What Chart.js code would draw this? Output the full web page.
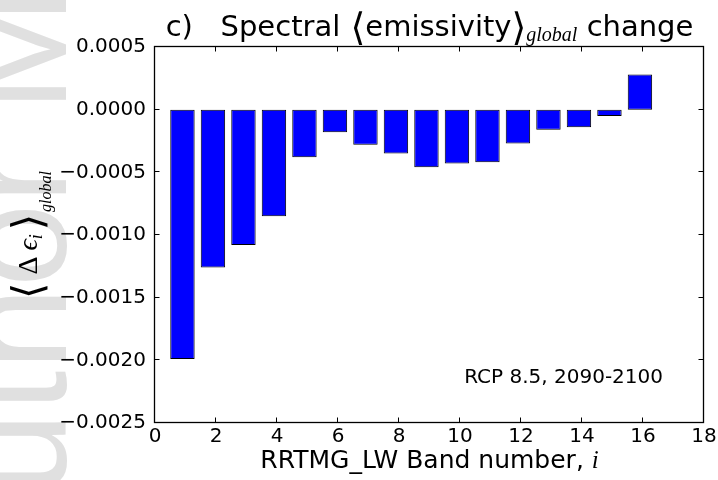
<!DOCTYPE html>
<html>
<head>
<meta charset="utf-8">
<script src="https://cdn.jsdelivr.net/npm/chart.js@4.4.0/dist/chart.umd.min.js"></script>
<style>
    html, body { margin: 0; padding: 0; background: #fff; }
</style>
</head>
<body>
<canvas id="bandChart" width="718" height="480"></canvas>
<script>
// RRTMG_LW bands and the global mean emissivity change per band
const bands = [1, 2, 3, 4, 5, 6, 7, 8, 9, 10, 11, 12, 13, 14, 15, 16];
const deltaEmissivity = [
    -0.00199, -0.00126, -0.00108, -0.00085,
    -0.00038, -0.00018, -0.00028, -0.00035,
    -0.00046, -0.00043, -0.00042, -0.00027,
    -0.00016, -0.00014, -0.00005, 0.00028
];
const xTickValues = [0, 2, 4, 6, 8, 10, 12, 14, 16, 18];
const yTickValues = [0.0005, 0.0, -0.0005, -0.0010, -0.0015, -0.0020, -0.0025];
const noteText = 'RCP 8.5, 2090-2100';

const SANS = '"DejaVu Sans"';
const SERIF = '"Liberation Serif", "DejaVu Serif"';

Chart.defaults.font.family = SANS;
Chart.defaults.color = '#000';

// draws a row of text pieces with different fonts, starting at x
function drawPieces(ctx, pieces, x, y) {
    let cx = x;
    pieces.forEach(function(p) {
        ctx.font = p.font;
        cx += (p.pre || 0);
        ctx.fillText(p.text, cx, y + (p.dy || 0));
        cx += ctx.measureText(p.text).width + (p.gap || 0);
    });
}
function piecesWidth(ctx, pieces) {
    let w = 0;
    pieces.forEach(function(p) {
        ctx.font = p.font;
        w += (p.pre || 0) + ctx.measureText(p.text).width + (p.gap || 0);
    });
    return w;
}

const titlePieces = [
    { text: 'c)   Spectral ', font: '29px ' + SANS, gap: 1 },
    { text: '\u27E8', font: '38px ' + SANS, dy: 4 },
    { text: 'emissivity', font: '29px ' + SANS },
    { text: '\u27E9', font: '38px ' + SANS, dy: 4 },
    { text: 'global', font: 'italic 20px ' + SERIF, dy: 5 },
    { text: ' change', font: '29px ' + SANS }
];
const yLabelPieces = [
    { text: '\u27E8', font: '42px ' + SANS, dy: 5, gap: 8 },
    { text: '\u0394', font: '28px ' + SERIF, gap: 6 },
    { text: '\u03F5', font: 'italic 28px ' + SERIF },
    { text: 'i', font: 'italic 18px ' + SERIF, dy: 5, gap: 4 },
    { text: '\u27E9', font: '42px ' + SANS, dy: 5, gap: 2 },
    { text: 'global', font: 'italic 16px ' + SERIF, dy: 14 }
];
const xLabelPieces = [
    { text: 'RRTMG_LW Band number, ', font: '25px ' + SANS },
    { text: 'i', font: 'italic 25px ' + SERIF }
];

const decorPlugin = {
    id: 'decor',
    beforeDraw: function(chart) {
        const ctx = chart.ctx;
        ctx.save();
        ctx.fillStyle = '#fff';
        ctx.fillRect(0, 0, chart.width, chart.height);
        // faint watermark down the left edge
        ctx.fillStyle = '#e0e0e0';
        ctx.font = '150px "Liberation Sans"';
        ctx.translate(66, 112);
        ctx.rotate(-Math.PI / 2);
        const pre = ctx.measureText('Author ').width;
        ctx.fillText('Author Manuscript', -pre, 0);
        ctx.restore();
    },
    afterDatasetsDraw: function(chart) {
        const ctx = chart.ctx;
        const a = chart.chartArea;
        const xs = chart.scales.x, ys = chart.scales.y;
        const L = a.left - 0.5, R = a.right - 0.5, T = a.top - 0.5, B = a.bottom - 0.5;
        ctx.save();
        ctx.strokeStyle = '#000';
        ctx.lineWidth = 1;
        ctx.beginPath();
        xs.ticks.forEach(function(t) {
            const px = Math.round(xs.getPixelForValue(t.value)) - 0.5;
            ctx.moveTo(px, B); ctx.lineTo(px, B - 5);
            ctx.moveTo(px, T); ctx.lineTo(px, T + 5);
        });
        ys.ticks.forEach(function(t) {
            const py = Math.round(ys.getPixelForValue(t.value)) - 0.5;
            ctx.moveTo(L, py); ctx.lineTo(L + 5, py);
            ctx.moveTo(R, py); ctx.lineTo(R - 5, py);
        });
        ctx.stroke();
        ctx.lineWidth = 1.3;
        ctx.strokeRect(L, T, R - L, B - T);
        ctx.restore();
    },
    afterDraw: function(chart) {
        const ctx = chart.ctx;
        const a = chart.chartArea;
        const cx = (a.left + a.right) / 2;
        ctx.save();
        ctx.fillStyle = '#000';
        ctx.textBaseline = 'alphabetic';
        ctx.textAlign = 'left';

        // title
        let w = piecesWidth(ctx, titlePieces);
        drawPieces(ctx, titlePieces, cx - w / 2, 36);

        // x axis label
        w = piecesWidth(ctx, xLabelPieces);
        drawPieces(ctx, xLabelPieces, cx - w / 2, 468);

        // note inside the axes
        ctx.font = '20px ' + SANS;
        ctx.textAlign = 'right';
        ctx.fillText(noteText, a.right - 41, a.bottom - 40);
        ctx.textAlign = 'left';

        // rotated y axis label
        w = piecesWidth(ctx, yLabelPieces);
        ctx.translate(37, (a.top + a.bottom) / 2);
        ctx.rotate(-Math.PI / 2);
        drawPieces(ctx, yLabelPieces, -w / 2, 0);
        ctx.restore();
    }
};

function fmtY(v) {
    if (Math.abs(v) < 1e-12) v = 0;
    return v.toFixed(4).replace('-', '\u2212');
}

new Chart(document.getElementById('bandChart').getContext('2d'), {
    type: 'bar',
    data: {
        datasets: [{
            // old matplotlib bars: left edge at i - 0.5, width 0.8
            data: bands.map(function(b, k) { return { x: b - 0.1, y: deltaEmissivity[k] }; }),
            backgroundColor: '#0000ff',
            borderColor: '#000',
            borderWidth: 1,
            borderSkipped: false,
            barPercentage: 0.8,
            categoryPercentage: 1.0
        }]
    },
    options: {
        responsive: false,
        devicePixelRatio: 1,
        animation: false,
        layout: { padding: { top: 47, right: 14, bottom: 0, left: 0 } },
        plugins: {
            legend: { display: false },
            tooltip: { enabled: false },
            title: { display: false }
        },
        scales: {
            x: {
                type: 'linear',
                offset: false,
                min: 0,
                max: 18,
                afterBuildTicks: function(scale) {
                    scale.ticks = xTickValues.map(function(v) { return { value: v }; });
                },
                afterFit: function(scale) { scale.height = 57; },
                grid: { display: false, offset: false },
                border: { display: false },
                ticks: {
                    font: { size: 20, family: SANS },
                    color: '#000',
                    padding: -6,
                    maxRotation: 0,
                    autoSkip: false
                }
            },
            y: {
                min: -0.0025,
                max: 0.0005,
                afterBuildTicks: function(scale) {
                    scale.ticks = yTickValues.map(function(v) { return { value: v }; });
                },
                afterFit: function(scale) { scale.width = 155; },
                grid: { display: false },
                border: { display: false },
                ticks: {
                    font: { size: 20, family: SANS },
                    color: '#000',
                    padding: 1,
                    autoSkip: false,
                    callback: function(value) { return fmtY(value); }
                }
            }
        }
    },
    plugins: [decorPlugin]
});
</script>
</body>
</html>
